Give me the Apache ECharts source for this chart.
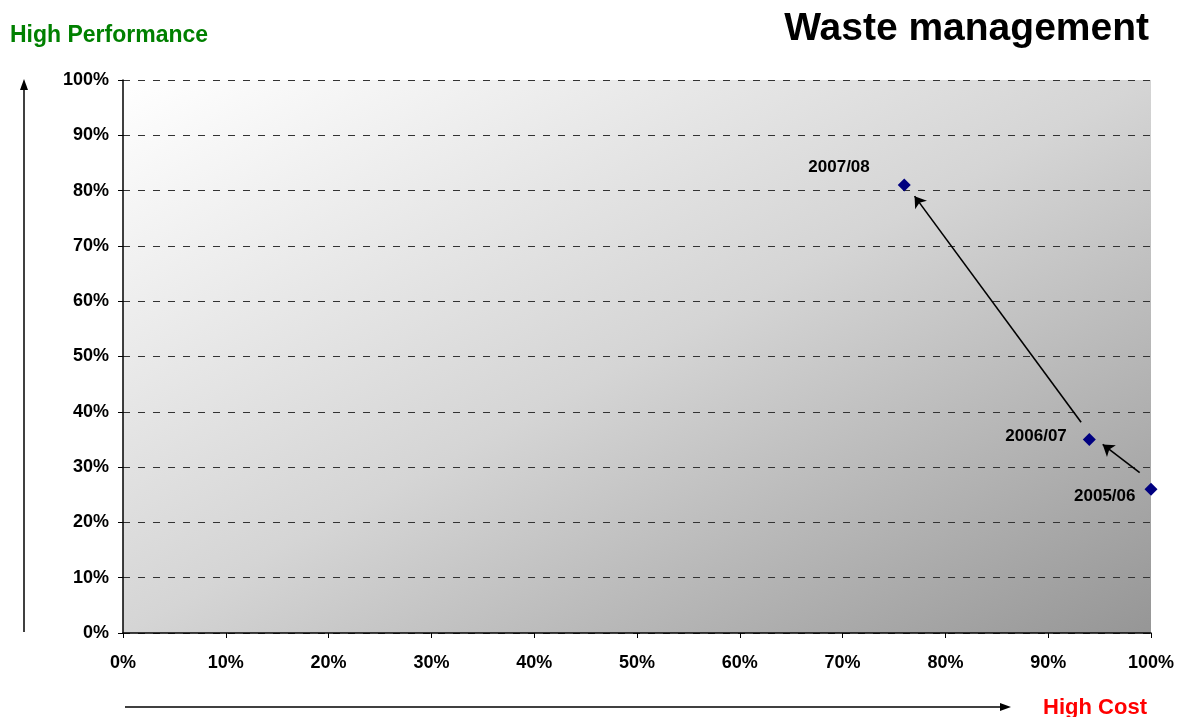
<!DOCTYPE html>
<html>
<head>
<meta charset="utf-8">
<title>Waste management</title>
<script src="https://cdn.jsdelivr.net/npm/echarts@6/dist/echarts.min.js"></script>
<style>
  html, body { margin: 0; padding: 0; background: #ffffff; }
  #chart { width: 1179px; height: 717px; }
</style>
</head>
<body>
<div id="chart"></div>
<script>
// Financial years plotted, with cost share (x) and performance (y), in percent
const years = ['2005/06', '2006/07', '2007/08'];
const costShare = [100, 94, 76];
const performance = [26, 35, 81];

// Axis range and tick step (percent)
const axisMin = 0;
const axisMax = 100;
const tickStep = 10;

// Trend arrows between consecutive years: start and end points in data units
const arrowFrom = [[98.9, 29.0], [93.2, 38.1]];
const arrowTo = [[95.3, 34.1], [77.0, 79.0]];

// Label placement beside each point
const labelOffsets = {
  '2005/06': [-4, 7],
  '2006/07': [-11, -3],
  '2007/08': [-23, -18]
};

const FONT = 'Liberation Sans, Arial, sans-serif';

const chart = echarts.init(document.getElementById('chart'), null, { renderer: 'canvas' });

const points = years.map((y, i) => ({
  name: y,
  value: [costShare[i], performance[i]],
  label: { offset: labelOffsets[y] }
}));

const arrows = arrowFrom.map((p, i) => [{ coord: p }, { coord: arrowTo[i] }]);

const option = {
  animation: false,
  title: [
    {
      text: 'Waste management',
      right: 30, top: 10, padding: 0,
      textStyle: { fontFamily: FONT, fontSize: 39, fontWeight: 'bold', color: '#000000' }
    },
    {
      text: 'High Performance',
      left: 10, top: 24, padding: 0,
      textStyle: { fontFamily: FONT, fontSize: 23, fontWeight: 'bold', color: '#008000' }
    },
    {
      text: 'High Cost',
      right: 32, top: 697, padding: 0,
      textStyle: { fontFamily: FONT, fontSize: 22, fontWeight: 'bold', color: '#ff0000' }
    }
  ],
  grid: {
    left: 123, right: 28, top: 80, bottom: 84,
    show: true,
    borderWidth: 0,
    // diagonal shading: iso-lines run corner to corner (top-right to bottom-left)
    backgroundColor: {
      type: 'linear', x: 0, y: 0, x2: 0.449, y2: 1.551,
      colorStops: [
        { offset: 0, color: '#ffffff' },
        { offset: 0.5, color: '#d5d5d5' },
        { offset: 1, color: '#969696' }
      ]
    }
  },
  xAxis: {
    type: 'value',
    min: axisMin, max: axisMax, interval: tickStep,
    axisLine: { show: true, onZero: false, lineStyle: { color: '#000000', width: 1.5 } },
    axisTick: { show: true, length: 5, lineStyle: { color: '#000000' } },
    axisLabel: {
      margin: 21,
      formatter: '{value}%',
      fontFamily: FONT, fontSize: 18, fontWeight: 'bold', color: '#000000'
    },
    splitLine: { show: false }
  },
  yAxis: {
    type: 'value',
    min: axisMin, max: axisMax, interval: tickStep,
    axisLine: { show: true, onZero: false, lineStyle: { color: '#000000', width: 1.5 } },
    axisTick: { show: true, length: 5, lineStyle: { color: '#000000' } },
    axisLabel: {
      margin: 14,
      formatter: '{value}%',
      fontFamily: FONT, fontSize: 18, fontWeight: 'bold', color: '#000000'
    },
    splitLine: {
      show: true,
      lineStyle: { color: '#333333', width: 1, type: [7, 8] }
    }
  },
  series: [
    {
      type: 'scatter',
      symbol: 'diamond',
      symbolSize: 13,
      itemStyle: { color: '#000080', opacity: 1 },
      data: points,
      label: {
        show: true,
        position: 'left',
        formatter: '{b}',
        fontFamily: FONT, fontSize: 17, fontWeight: 'bold', color: '#000000'
      },
      markLine: {
        silent: true,
        symbol: ['none', 'arrow'],
        symbolSize: 11,
        label: { show: false },
        lineStyle: { color: '#000000', width: 1.6, type: 'solid', opacity: 1 },
        emphasis: { disabled: true },
        data: arrows
      },
      z: 5
    }
  ],
  graphic: [
    // vertical "performance" arrow beside the y axis
    { type: 'line', shape: { x1: 24, y1: 632, x2: 24, y2: 88 }, style: { stroke: '#000000', lineWidth: 1.5 } },
    { type: 'polygon', shape: { points: [[24, 79], [20, 90], [28, 90]] }, style: { fill: '#000000' } },
    // horizontal "cost" arrow under the x axis
    { type: 'line', shape: { x1: 125, y1: 707, x2: 1002, y2: 707 }, style: { stroke: '#000000', lineWidth: 1.5 } },
    { type: 'polygon', shape: { points: [[1011, 707], [1000, 703], [1000, 711]] }, style: { fill: '#000000' } }
  ]
};

chart.setOption(option);
</script>
</body>
</html>
